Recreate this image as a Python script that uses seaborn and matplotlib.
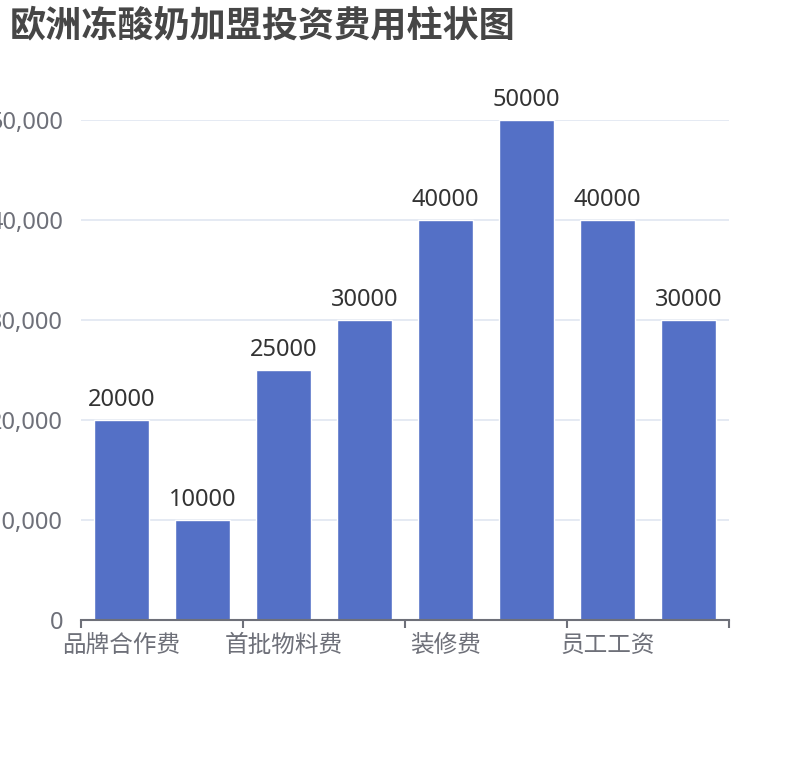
import matplotlib
matplotlib.use("Agg")
import matplotlib.pyplot as plt
import numpy as np
import pandas as pd
import seaborn as sns

# 数据（偶数位置的类别名在原图中被隐藏）
categories = ["品牌合作费", "加盟费", "首批物料费", "设备费", "装修费", "房租", "员工工资", "其他费用"]
values = [20000, 10000, 25000, 30000, 40000, 50000, 40000, 30000]
y_ticks = [0, 10000, 20000, 30000, 40000, 50000]

BAR = "#5470c6"
GRID = "#E0E6F1"
AXIS = "#6E7079"

sns.set_theme(style="white")
plt.rcParams["font.family"] = ["Noto Sans", "Noto Sans CJK SC", "DejaVu Sans"]

df = pd.DataFrame({"类别": categories, "费用": values})

fig = plt.figure(figsize=(8.1, 7.6), dpi=100)
ax = fig.add_axes([81 / 810, 140 / 760, 648 / 810, 500 / 760])

sns.barplot(data=df, x="类别", y="费用", color=BAR, saturation=1, width=0.69, ax=ax, zorder=3)

ax.set_xlim(-0.5, len(categories) - 0.5)
ax.set_ylim(0, 50000)
ax.set_xlabel("")
ax.set_ylabel("")

# y 轴
ax.set_yticks(y_ticks)
ax.set_yticklabels([f"{v:,}" for v in y_ticks])
ax.tick_params(axis="y", length=0, pad=13, labelsize=17, labelcolor=AXIS)
ax.yaxis.grid(True, color=GRID, linewidth=1.2, zorder=0)

# x 轴：每隔一个类别显示标签，刻度线在类别边界
ax.set_xticks(np.arange(0, len(categories), 2))
ax.set_xticklabels(categories[::2])
ax.set_xticks(np.arange(-0.5, len(categories), 2), minor=True)
ax.tick_params(axis="x", which="major", length=0, pad=10, labelsize=17, labelcolor=AXIS)
ax.tick_params(axis="x", which="minor", length=6, width=1.5, color=AXIS, bottom=True)

for side in ["top", "right", "left"]:
    ax.spines[side].set_visible(False)
ax.spines["bottom"].set_color(AXIS)
ax.spines["bottom"].set_linewidth(1.5)
ax.spines["bottom"].set_zorder(4)

for c in ax.containers:
    ax.bar_label(c, labels=[str(v) for v in values], padding=6, fontsize=17, color="#333333")

fig.text(10 / 810, 1 - 27 / 760, "欧洲冻酸奶加盟投资费用柱状图", fontsize=26, fontweight="bold",
         color="#464646", ha="left", va="center")

fig.savefig("out.png", dpi=100)
